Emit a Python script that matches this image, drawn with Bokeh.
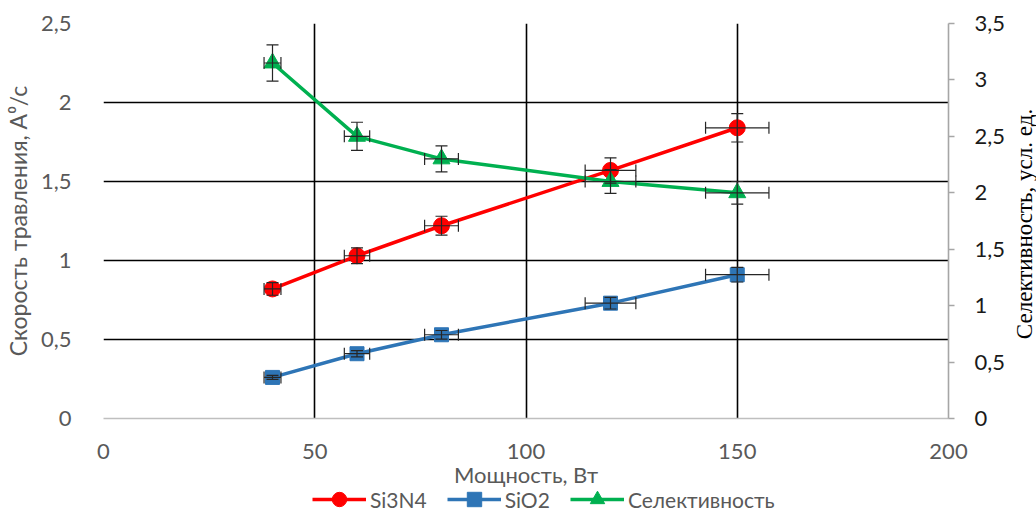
from bokeh.plotting import figure
from bokeh.layouts import column, row
from bokeh.models import (Range1d, LinearAxis, FixedTicker, CustomJSTickFormatter,
                          ColumnDataSource, Whisker, TeeHead, Legend, LegendItem)
from bokeh.embed import file_html
from bokeh.resources import INLINE

# ---- data ----
power = [40, 60, 80, 120, 150]
si3n4 = [0.82, 1.03, 1.22, 1.57, 1.84]
sio2 = [0.26, 0.41, 0.53, 0.73, 0.91]
selectivity = [3.15, 2.50, 2.30, 2.10, 2.00]
power_err = [2, 3, 4, 6, 7.5]
si3n4_err = [0.04, 0.05, 0.06, 0.08, 0.09]
sio2_err = [0.013, 0.02, 0.027, 0.037, 0.046]
sel_err = [0.16, 0.125, 0.115, 0.105, 0.10]

x_ticks = [0, 50, 100, 150, 200]
left_ticks = [0, 0.5, 1, 1.5, 2, 2.5]
right_ticks = [0, 0.5, 1, 1.5, 2, 2.5, 3, 3.5]

RED = "#ff0000"
BLUE = "#2e75b6"
GREEN = "#00b050"
GRAY_TXT = "#595959"
FONT = "Lato"

def src(y, yerr):
    return ColumnDataSource(dict(
        x=power, y=y,
        xl=[a - b for a, b in zip(power, power_err)],
        xu=[a + b for a, b in zip(power, power_err)],
        yl=[a - b for a, b in zip(y, yerr)],
        yu=[a + b for a, b in zip(y, yerr)],
    ))

s_n = src(si3n4, si3n4_err)
s_o = src(sio2, sio2_err)
s_s = src(selectivity, sel_err)

# ---------------- main plot ----------------
p = figure(width=1008, height=491, x_range=Range1d(0, 200), y_range=Range1d(0, 2.5),
           output_backend="svg", toolbar_location=None,
           min_border_left=103, min_border_right=56, min_border_top=23, min_border_bottom=73)
p.outline_line_color = None
p.background_fill_color = "white"
p.border_fill_color = "white"
p.extra_y_ranges = {"sel": Range1d(0, 3.5)}

fmt = CustomJSTickFormatter(code="return tick.toString().replace('.', ',');")

p.xgrid.ticker = FixedTicker(ticks=[0, 50, 100, 150])
p.ygrid.ticker = FixedTicker(ticks=[0.5, 1, 1.5, 2, 2.5])
for g in (p.xgrid, p.ygrid):
    g.grid_line_color = "black"
    g.grid_line_width = 1.6

xa = p.xaxis[0]
xa.ticker = FixedTicker(ticks=x_ticks)
xa.formatter = fmt
xa.axis_line_color = "#bfbfbf"
xa.axis_line_width = 1.6
xa.major_tick_line_color = None
xa.minor_tick_line_color = None
xa.major_label_standoff = 19
xa.major_label_text_font = FONT
xa.major_label_text_font_size = "22px"
xa.major_label_text_color = GRAY_TXT
xa.axis_label = "Мощность, Вт"
xa.axis_label_text_font = FONT
xa.axis_label_text_font_size = "22px"
xa.axis_label_text_font_style = "normal"
xa.axis_label_text_color = GRAY_TXT
xa.axis_label_standoff = -1

ya = p.yaxis[0]
ya.ticker = FixedTicker(ticks=left_ticks)
ya.formatter = fmt
ya.axis_line_color = None
ya.major_tick_line_color = None
ya.minor_tick_line_color = None
ya.major_label_standoff = 26
ya.major_label_text_font = FONT
ya.major_label_text_font_size = "22px"
ya.major_label_text_color = GRAY_TXT
ya.axis_label = "Скорость травления, A⁰/c"
ya.axis_label_text_font = FONT
ya.axis_label_text_font_size = "23px"
ya.axis_label_text_font_style = "normal"
ya.axis_label_text_color = GRAY_TXT
ya.axis_label_standoff = 6

ra = LinearAxis(y_range_name="sel", ticker=FixedTicker(ticks=right_ticks), formatter=fmt)
ra.axis_line_color = "#a6a6a6"
ra.axis_line_width = 1.6
ra.major_tick_line_color = "#a6a6a6"
ra.major_tick_line_width = 1.3
ra.major_tick_out = 6
ra.major_tick_in = 0
ra.minor_tick_line_color = None
ra.major_label_standoff = 20
ra.major_label_text_font = FONT
ra.major_label_text_font_size = "22px"
ra.major_label_text_color = "#1a1a1a"
p.add_layout(ra, "right")

ln_n = p.line("x", "y", source=s_n, line_color=RED, line_width=3.5)
mk_n = p.scatter("x", "y", source=s_n, marker="circle", size=16, fill_color=RED, line_color=RED)
ln_o = p.line("x", "y", source=s_o, line_color=BLUE, line_width=3.5)
mk_o = p.scatter("x", "y", source=s_o, marker="square", size=14, fill_color=BLUE, line_color=BLUE)
ln_s = p.line("x", "y", source=s_s, line_color=GREEN, line_width=3.5, y_range_name="sel")
mk_s = p.scatter("x", "y", source=s_s, marker="triangle", size=17, fill_color=GREEN,
                 line_color=GREEN, y_range_name="sel")

def whiskers(source, yname=None):
    kw = {} if yname is None else {"y_range_name": yname}
    for dim, base, lo, up in (("height", "x", "yl", "yu"), ("width", "y", "xl", "xu")):
        w = Whisker(source=source, base=base, lower=lo, upper=up, dimension=dim,
                    line_color="#262626", line_width=1.2, level="overlay",
                    upper_head=TeeHead(size=12, line_color="#262626", line_width=1.2),
                    lower_head=TeeHead(size=12, line_color="#262626", line_width=1.2), **kw)
        p.add_layout(w)

whiskers(s_n)
whiskers(s_o)
whiskers(s_s, "sel")

# ---------------- legend strip ----------------
lf = figure(width=1008, height=17, x_range=Range1d(0, 1), y_range=Range1d(0, 1),
            output_backend="svg", toolbar_location=None, min_border=0)
lf.axis.visible = False
lf.grid.visible = False
lf.outline_line_color = None
empty = ColumnDataSource(dict(x=[float("nan")], y=[float("nan")]))
l1 = lf.line("x", "y", source=empty, line_color=RED, line_width=3.5)
m1 = lf.scatter("x", "y", source=empty, marker="circle", size=16, fill_color=RED, line_color=RED)
l2 = lf.line("x", "y", source=empty, line_color=BLUE, line_width=3.5)
m2 = lf.scatter("x", "y", source=empty, marker="square", size=14, fill_color=BLUE, line_color=BLUE)
l3 = lf.line("x", "y", source=empty, line_color=GREEN, line_width=3.5)
m3 = lf.scatter("x", "y", source=empty, marker="triangle", size=17, fill_color=GREEN, line_color=GREEN)
legend = Legend(items=[LegendItem(label="Si3N4", renderers=[l1, m1]),
                       LegendItem(label="SiO2", renderers=[l2, m2]),
                       LegendItem(label="Селективность", renderers=[l3, m3])],
                orientation="horizontal", location=(209, -9),
                glyph_width=54, glyph_height=36, label_standoff=4, spacing=20,
                padding=0, margin=0, border_line_color=None, background_fill_alpha=0,
                label_text_font=FONT, label_text_font_size="21px", label_text_color=GRAY_TXT)
lf.add_layout(legend)

# ---------------- right axis title strip ----------------
tf = figure(width=28, height=508, x_range=Range1d(0, 1), y_range=Range1d(0, 1),
            output_backend="svg", toolbar_location=None,
            min_border_left=27, min_border_right=0, min_border_top=13, min_border_bottom=74)
tf.xaxis.visible = False
tf.grid.visible = False
tf.outline_line_color = None
ty = tf.yaxis[0]
ty.ticker = FixedTicker(ticks=[])
ty.axis_line_color = None
ty.major_tick_line_color = None
ty.minor_tick_line_color = None
ty.axis_label = "Селективность, усл. ед."
ty.axis_label_text_font = "Liberation Serif"
ty.axis_label_text_font_size = "23px"
ty.axis_label_text_font_style = "normal"
ty.axis_label_text_color = "black"
ty.axis_label_standoff = 0

layout = row(column(p, lf, spacing=0), tf, spacing=0)
open("out.html", "w").write(file_html(layout, INLINE))
